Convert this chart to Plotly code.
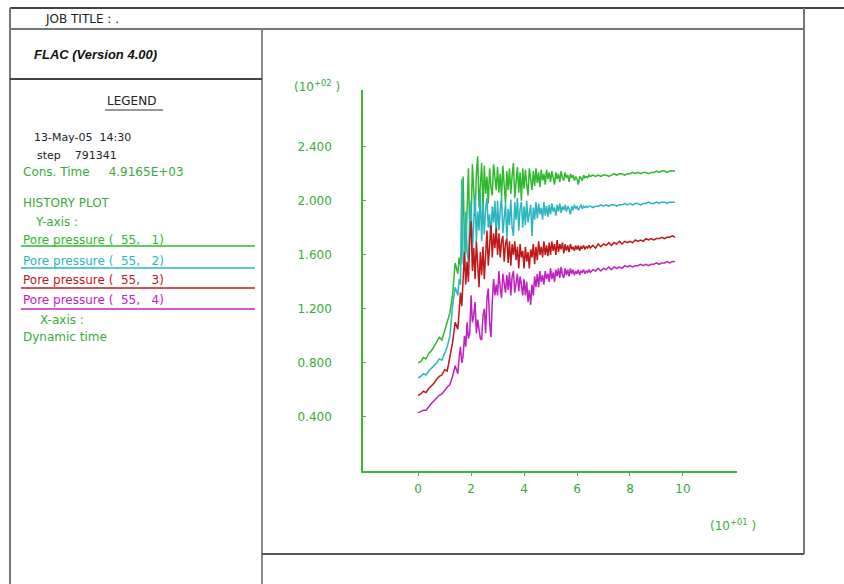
import plotly.graph_objects as go

W, H = 844, 584

# Dynamic time samples (x 10^+01): 0.1 apart, 0.05 apart over the shaking phase
time = ([round(0.1 * i, 1) for i in range(15)]
        + [round(1.5 + 0.05 * i, 2) for i in range(100)]
        + [round(6.5 + 0.1 * i, 1) for i in range(33)])

# Pore pressure histories (x 10^+02) at gridpoints (55,1)..(55,4)
pp_55_1 = [0.80, 0.81, 0.84, 0.83, 0.87, 0.89, 0.92, 0.95, 0.99, 0.97,
           1.04, 1.10, 1.17, 1.30, 1.54,
           1.46, 1.58, 1.52, 1.66, 2.18, 1.70, 1.62, 2.05, 2.24, 1.75,
           1.82, 2.27, 2.10, 1.88, 2.20, 2.33, 1.95, 2.12, 2.28, 1.92,
           2.26, 2.05, 2.18, 1.98, 2.24, 2.10, 2.04, 2.27, 2.15, 2.08,
           2.25, 2.06, 2.20, 2.03, 2.26, 2.12, 1.98, 2.22, 2.08, 2.24,
           2.05, 2.19, 2.28, 2.02, 2.14, 2.25, 2.06, 2.21, 2.00, 2.24,
           2.09, 2.23, 2.12, 2.04, 2.24, 2.15, 2.08, 2.22, 2.11, 2.24,
           2.13, 2.21, 2.10, 2.23, 2.15, 2.20, 2.12, 2.23, 2.16, 2.21,
           2.14, 2.22, 2.17, 2.12, 2.21, 2.16, 2.20, 2.14, 2.22, 2.17,
           2.15, 2.21, 2.17, 2.19, 2.14, 2.20, 2.17, 2.19, 2.15, 2.18,
           2.16, 2.12, 2.18, 2.17, 2.15, 2.19, 2.17, 2.18, 2.17, 2.19,
           2.18, 2.19, 2.18, 2.19, 2.18, 2.19, 2.19, 2.18, 2.19, 2.20,
           2.19, 2.20, 2.20, 2.19, 2.20, 2.20, 2.21, 2.20, 2.21, 2.20,
           2.21, 2.21, 2.20, 2.21, 2.21, 2.22, 2.21, 2.22, 2.22, 2.21,
           2.22, 2.22, 2.22]
pp_55_2 = [0.69, 0.70, 0.72, 0.71, 0.74, 0.76, 0.78, 0.80, 0.83, 0.82,
           0.87, 0.92, 1.00, 1.22, 1.36,
           1.30, 1.42, 1.38, 2.16, 1.55, 1.48, 1.92, 1.62, 1.55, 1.85,
           2.00, 1.62, 1.80, 2.05, 1.70, 1.92, 1.78, 2.06, 1.70, 1.98,
           1.75, 1.95, 2.02, 1.80, 1.90, 1.72, 1.96, 1.84, 2.00, 1.74,
           2.00, 1.78, 1.92, 2.03, 1.76, 1.88, 1.98, 1.72, 1.94, 1.82,
           2.01, 1.80, 1.74, 1.99, 1.86, 2.02, 1.78, 1.94, 1.99, 1.80,
           1.96, 1.82, 2.00, 1.84, 1.90, 1.97, 1.74, 1.95, 1.86, 1.99,
           1.87, 1.98, 1.90, 1.95, 1.86, 1.99, 1.89, 1.96, 1.88, 1.97,
           1.90, 1.98, 1.92, 1.95, 1.89, 1.97, 1.92, 1.98, 1.91, 1.96,
           1.93, 1.97, 1.92, 1.96, 1.94, 1.90, 1.96, 1.93, 1.97, 1.94,
           1.96, 1.93, 1.95, 1.97, 1.94, 1.96, 1.95, 1.96, 1.95, 1.96,
           1.96, 1.95, 1.96, 1.96, 1.97, 1.96, 1.97, 1.96, 1.97, 1.97,
           1.96, 1.97, 1.97, 1.98, 1.97, 1.98, 1.97, 1.98, 1.98, 1.97,
           1.98, 1.98, 1.99, 1.98, 1.98, 1.99, 1.98, 1.99, 1.99, 1.98,
           1.99, 1.99, 1.99]
pp_55_3 = [0.56, 0.57, 0.59, 0.58, 0.61, 0.63, 0.65, 0.68, 0.70, 0.71,
           0.75, 0.74, 0.84, 0.95, 1.10,
           1.05, 1.18, 1.32, 1.22, 1.40, 1.62, 1.38, 1.55, 1.40, 1.72,
           1.85, 1.48, 1.65, 1.42, 1.70, 1.55, 1.36, 1.62, 1.45, 1.66,
           1.42, 1.60, 1.78, 1.52, 1.70, 1.82, 1.58, 1.76, 1.65, 1.80,
           1.60, 1.76, 1.58, 1.70, 1.74, 1.55, 1.68, 1.72, 1.54, 1.70,
           1.52, 1.68, 1.60, 1.70, 1.56, 1.66, 1.50, 1.68, 1.58, 1.63,
           1.50, 1.66, 1.55, 1.62, 1.50, 1.64, 1.58, 1.68, 1.53, 1.66,
           1.56, 1.70, 1.60, 1.66, 1.58, 1.70, 1.60, 1.67, 1.59, 1.69,
           1.60, 1.70, 1.63, 1.68, 1.60, 1.71, 1.62, 1.68, 1.64, 1.69,
           1.61, 1.68, 1.63, 1.67, 1.62, 1.68, 1.64, 1.66, 1.63, 1.67,
           1.64, 1.67, 1.63, 1.66, 1.65, 1.67, 1.64, 1.66, 1.65, 1.67,
           1.65, 1.67, 1.65, 1.68, 1.66, 1.68, 1.67, 1.69, 1.67, 1.69,
           1.68, 1.70, 1.68, 1.70, 1.69, 1.70, 1.69, 1.71, 1.70, 1.71,
           1.70, 1.72, 1.71, 1.72, 1.71, 1.72, 1.72, 1.73, 1.72, 1.73,
           1.73, 1.74, 1.73]
pp_55_4 = [0.43, 0.44, 0.45, 0.45, 0.48, 0.50, 0.52, 0.54, 0.56, 0.57,
           0.60, 0.62, 0.64, 0.70, 0.78,
           0.72, 0.84, 0.92, 0.80, 0.85, 1.00, 0.92, 1.10, 0.98, 1.02,
           1.30, 1.10, 1.15, 1.25, 1.02, 1.12, 1.05, 0.98, 0.97, 1.15,
           1.20, 1.02, 1.28, 1.35, 1.10, 0.99, 1.25, 1.42, 1.30, 1.38,
           1.30, 1.48, 1.36, 1.28, 1.46, 1.40, 1.32, 1.45, 1.34, 1.47,
           1.30, 1.44, 1.48, 1.32, 1.40, 1.46, 1.33, 1.44, 1.38, 1.30,
           1.42, 1.30, 1.40, 1.25, 1.34, 1.23, 1.38, 1.30, 1.44, 1.36,
           1.46, 1.36, 1.48, 1.40, 1.45, 1.38, 1.48, 1.42, 1.46, 1.40,
           1.50, 1.42, 1.47, 1.40, 1.49, 1.44, 1.50, 1.43, 1.51, 1.45,
           1.43, 1.50, 1.45, 1.49, 1.44, 1.50, 1.46, 1.49, 1.45, 1.48,
           1.46, 1.49, 1.45, 1.48, 1.47, 1.49, 1.46, 1.48, 1.47, 1.49,
           1.47, 1.49, 1.48, 1.50, 1.48, 1.50, 1.49, 1.51, 1.49, 1.51,
           1.50, 1.51, 1.50, 1.52, 1.51, 1.52, 1.51, 1.52, 1.52, 1.53,
           1.52, 1.53, 1.52, 1.53, 1.53, 1.54, 1.53, 1.54, 1.54, 1.55,
           1.54, 1.55, 1.55]

series_names = ["Pore pressure (  55,   1)", "Pore pressure (  55,   2)",
                "Pore pressure (  55,   3)", "Pore pressure (  55,   4)"]
series_values = [pp_55_1, pp_55_2, pp_55_3, pp_55_4]
series_colors = ["#2eb82e", "#2ab5c0", "#c01818", "#c020c0"]

x_ticks = [0, 2, 4, 6, 8, 10]
y_ticks = [0.4, 0.8, 1.2, 1.6, 2.0, 2.4]

GREEN_AXIS = "#3cb83c"
GREEN_TEXT = "#3aaa3a"
FRAME = "#5a5a5a"
TEXT_FONT = "DejaVu Sans"


def px(x):
    return x / W


def py(y):
    return 1 - y / H


fig = go.Figure()
for name, vals, col in zip(series_names, series_values, series_colors):
    fig.add_trace(go.Scatter(x=time, y=vals, mode="lines", name=name,
                             line=dict(color=col, width=1.5)))

shapes = []


def hline(y, x0, x1, color=FRAME, width=2):
    shapes.append(dict(type="line", xref="paper", yref="paper",
                       x0=px(x0), x1=px(x1), y0=py(y), y1=py(y),
                       line=dict(color=color, width=width)))


def vline(x, y0, y1, color=FRAME, width=2):
    shapes.append(dict(type="line", xref="paper", yref="paper",
                       x0=px(x), x1=px(x), y0=py(y0), y1=py(y1),
                       line=dict(color=color, width=width)))


# page frame
hline(8, 10, 844, color="#444444")
vline(10, 8, 584, color="#777777")
hline(29, 10, 804, color="#777777")
vline(804, 8, 554, color="#777777")
vline(262, 29, 584, color="#888888")
hline(79, 10, 262, color="#444444")
hline(554, 262, 804, color="#555555")

# legend underline and series keys
hline(110, 105, 163, color="#333333", width=1)
key_rows = [(240, 246), (261, 268), (280, 288), (300, 309)]
for (ty, ly), name, col in zip(key_rows, series_names, series_colors):
    hline(ly, 21, 255, color=col, width=1.5)

annotations = []


def text(s, x, y, color="#222222", size=11, family=TEXT_FONT, anchor="left"):
    annotations.append(dict(text=s, xref="paper", yref="paper",
                            x=px(x), y=py(y), xanchor=anchor, yanchor="middle",
                            showarrow=False,
                            font=dict(family=family, size=size, color=color)))


text("JOB TITLE : .", 43, 19, size=12)
text("<b><i>FLAC (Version 4.00)</i></b>", 32, 54, size=13,
     family="Liberation Sans", color="#111111")
text("LEGEND", 131, 101, size=12, anchor="center")
text("13-May-05  14:30", 32, 138)
text("step    791341", 35, 155)
text("Cons. Time     4.9165E+03", 21, 172, color=GREEN_TEXT, size=12)
text("HISTORY PLOT", 21, 203, color=GREEN_TEXT, size=12)
text("Y-axis :", 33, 222, color=GREEN_TEXT, size=12)
for (ty, ly), name, col in zip(key_rows, series_names, series_colors):
    text(name, 21, ty, color=col, size=12)
text("X-axis :", 38, 320, color=GREEN_TEXT, size=12)
text("Dynamic time", 21, 337, color=GREEN_TEXT, size=12)

# axis multipliers
text("(10<sup>+02</sup> )", 292, 86, color=GREEN_TEXT, size=12)
text("(10<sup>+01</sup> )", 708, 525, color=GREEN_TEXT, size=12)

fig.update_layout(
    width=W, height=H,
    margin=dict(l=0, r=0, t=0, b=0),
    paper_bgcolor="white", plot_bgcolor="white",
    showlegend=False,
    shapes=shapes,
    annotations=annotations,
    xaxis=dict(domain=[px(363), px(737)], range=[-2.08, 12.04],
               showgrid=False, zeroline=False, showline=True,
               linecolor=GREEN_AXIS, linewidth=1.5,
               ticks="outside", ticklen=3, tickcolor=GREEN_AXIS,
               tickvals=x_ticks, ticktext=[str(v) for v in x_ticks],
               ticklabelstandoff=3,
               tickfont=dict(family=TEXT_FONT, size=12, color=GREEN_TEXT)),
    yaxis=dict(domain=[py(471), py(90)], range=[0, 2.82],
               showgrid=False, zeroline=False, showline=True,
               linecolor=GREEN_AXIS, linewidth=1.5,
               ticks="inside", ticklen=3, tickcolor=GREEN_AXIS,
               tickvals=y_ticks, ticktext=["%.3f" % v for v in y_ticks],
               ticklabelstandoff=27,
               tickfont=dict(family=TEXT_FONT, size=12, color=GREEN_TEXT)),
)

fig.write_html("out.html")
